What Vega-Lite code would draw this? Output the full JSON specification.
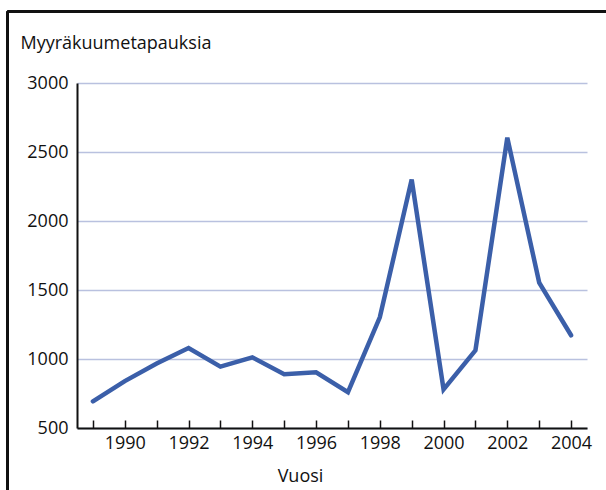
{
  "$schema": "https://vega.github.io/schema/vega-lite/v6.json",
  "width": 510,
  "height": 345,
  "autosize": {"type": "none"},
  "padding": {"left": 77, "top": 83, "right": 19, "bottom": 62},
  "config": {
    "view": {"stroke": null},
    "font": "Open Sans",
    "axis": {"labelFont": "Open Sans", "titleFont": "Open Sans", "labelColor": "#111", "titleColor": "#111", "titleFontWeight": "normal"}
  },
  "data": {
    "values": [
      {"vuosi": 1989, "tapaukset": 693},
      {"vuosi": 1990, "tapaukset": 840},
      {"vuosi": 1991, "tapaukset": 968},
      {"vuosi": 1992, "tapaukset": 1080},
      {"vuosi": 1993, "tapaukset": 945},
      {"vuosi": 1994, "tapaukset": 1012},
      {"vuosi": 1995, "tapaukset": 889},
      {"vuosi": 1996, "tapaukset": 904},
      {"vuosi": 1997, "tapaukset": 760},
      {"vuosi": 1998, "tapaukset": 1302},
      {"vuosi": 1999, "tapaukset": 2300},
      {"vuosi": 2000, "tapaukset": 780},
      {"vuosi": 2001, "tapaukset": 1063},
      {"vuosi": 2002, "tapaukset": 2604},
      {"vuosi": 2003, "tapaukset": 1554},
      {"vuosi": 2004, "tapaukset": 1172}
    ]
  },
  "resolve": {"axis": {"x": "independent", "y": "independent"}},
  "layer": [
    {
      "mark": {"type": "line", "color": "#3b5fa9", "strokeWidth": 4.5, "strokeCap": "round", "strokeJoin": "miter"},
      "encoding": {
        "x": {
          "field": "vuosi", "type": "quantitative",
          "scale": {"domain": [1988.5, 2004.5], "nice": false, "zero": false},
          "axis": {
            "orient": "bottom",
            "title": "Vuosi", "titleFontSize": 18, "titleX": 223, "titleY": 53, "titleBaseline": "alphabetic",
            "values": [1989,1990,1991,1992,1993,1994,1995,1996,1997,1998,1999,2000,2001,2002,2003,2004],
            "format": "d",
            "labelExpr": "datum.value % 2 == 0 ? datum.label : ''",
            "labelFontSize": 18, "labelPadding": 14, "labelFlush": false, "labelOverlap": false, "labelBound": false,
            "grid": false, "tickSize": -8, "tickColor": "#111", "tickWidth": 1.5,
            "domainColor": "#111", "domainWidth": 2
          }
        },
        "y": {
          "field": "tapaukset", "type": "quantitative",
          "scale": {"domain": [500, 3000], "nice": false, "zero": false},
          "axis": {
            "orient": "left",
            "title": "Myyräkuumetapauksia", "titleAngle": 0, "titleAlign": "left", "titleBaseline": "alphabetic",
            "titleX": -57, "titleY": -35, "titleFontSize": 18,
            "values": [500, 1000, 1500, 2000, 2500, 3000], "format": "d",
            "labelFontSize": 18, "labelPadding": 9, "ticks": false,
            "grid": true, "gridColor": "#b9c1df", "gridWidth": 1.5,
            "domainColor": "#111", "domainWidth": 2
          }
        }
      }
    },
    {
      "mark": {"type": "rule", "color": "#111", "strokeWidth": 1.5},
      "encoding": {
        "x": {"datum": 1986.32, "type": "quantitative", "axis": null},
        "y": {"datum": 3519, "type": "quantitative", "axis": null},
        "y2": {"datum": 45}
      }
    },
    {
      "mark": {"type": "rule", "color": "#111", "strokeWidth": 1.5},
      "encoding": {
        "x": {"datum": 1986.32, "type": "quantitative", "axis": null},
        "x2": {"datum": 2005.2},
        "y": {"datum": 3519, "type": "quantitative", "axis": null}
      }
    }
  ]
}
